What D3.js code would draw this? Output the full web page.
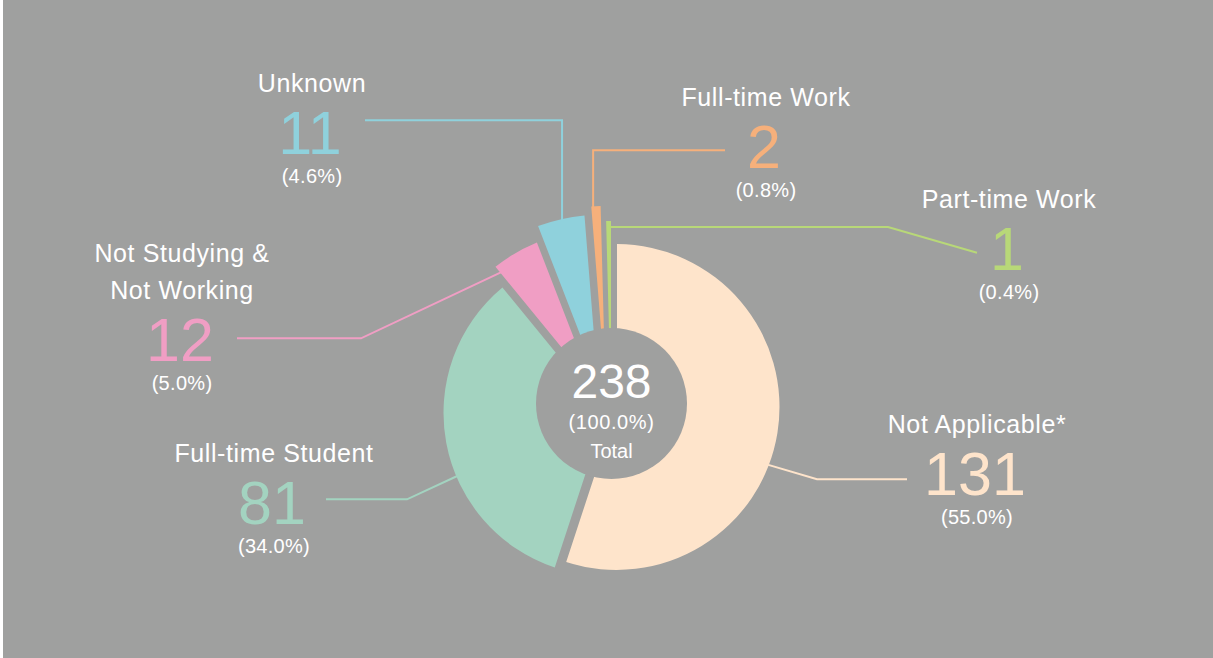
<!DOCTYPE html>
<html lang="en">
<head>
    <meta charset="UTF-8">
    <title>Donut - Status</title>
    <script src="https://d3js.org/d3.v7.min.js"></script>
    <style>
        body { margin: 0; background: #fff; }
        text { font-family: "Liberation Sans", Arial, Helvetica, sans-serif; }
    </style>
</head>
<body>
    <svg id="chart" width="1213" height="658"></svg>

    <script>
        // Data (clockwise from 12 o'clock)
        const categories = ["Not Applicable*", "Full-time Student", "Not Studying & Not Working", "Unknown", "Full-time Work", "Part-time Work"];
        const titleLines = [["Not Applicable*"], ["Full-time Student"], ["Not Studying &", "Not Working"], ["Unknown"], ["Full-time Work"], ["Part-time Work"]];
        const counts = [131, 81, 12, 11, 2, 1];
        const totalLabel = "Total";

        // Styles
        const bg = "#9fa09f";
        const colors = ["#fee4cb", "#a3d3c0", "#f09ec4", "#8fd1dc", "#f6b07b", "#b8d878"];
        const outerR = [163, 163, 174, 185, 200, 185];
        const shift = [[5, 1], [-5, 7], [-8.5, -2.5], [-9.4, -6.4], [-5, 0], [-0.5, 0]];
        const halfGap = [0.5, 1, 3.5, 3, 0.6, 0];

        // Layout
        const cx = 611.5, cy = 406;
        const holeR = 75.5, holeY = 403.5;
        const labelPos = [[977, 433], [274, 462], [182, 262], [312, 92], [766, 106], [1009, 208]];
        const leaders = [
            { f: 0.56, dr: -4, pt: [907, 479.3], elbowX: 817 },
            { f: 0.40, dr: -4, pt: [326, 499.3], elbowX: 407 },
            { f: 0.10, dr: -8, pt: [237, 338.3], elbowX: 361 },
            { f: 0.50, dr: -5, pt: [365, 120.3], elbowX: null },
            { f: 0.20, dr: -5, pt: [725, 150.3], elbowX: null },
            { f: 0.50, dr: -6, pt: [977, 252.7], elbowX: 888, fromSlice: true }
        ];

        const total = d3.sum(counts);
        const pctFmt = d3.format(".1f");

        const svg = d3.select("#chart");
        svg.append("rect").attr("x", 3).attr("y", 0).attr("width", 1210).attr("height", 658).attr("fill", bg);

        const pie = d3.pie().sort(null).value(d => d);
        const arcs = pie(counts);

        const arc = d3.arc()
            .innerRadius(50)
            .outerRadius(d => outerR[d.index])
            .padRadius(100)
            .padAngle(d => halfGap[d.index] * 2 / 100);

        function attach(d, f, dr) {
            const a = d.startAngle + f * (d.endAngle - d.startAngle);
            const r = outerR[d.index] + dr;
            return [cx + shift[d.index][0] + r * Math.sin(a), cy + shift[d.index][1] - r * Math.cos(a)];
        }

        // Leader lines (under slices)
        const line = d3.line();
        svg.append("g").selectAll("path")
            .data(arcs)
            .join("path")
            .attr("fill", "none")
            .attr("stroke", (d, i) => colors[i])
            .attr("stroke-width", 2)
            .attr("d", (d, i) => {
                const L = leaders[i];
                const p = attach(d, L.f, L.dr);
                if (L.fromSlice) return line([p, [L.elbowX, p[1]], L.pt]);
                if (L.elbowX === null) return line([L.pt, [p[0], L.pt[1]], p]);
                return line([L.pt, [L.elbowX, L.pt[1]], p]);
            });

        // Slices
        svg.append("g").selectAll("path")
            .data(arcs)
            .join("path")
            .attr("transform", (d, i) => `translate(${cx + shift[i][0]},${cy + shift[i][1]})`)
            .attr("fill", (d, i) => colors[i])
            .attr("d", arc);

        // Center hole
        svg.append("circle").attr("cx", cx).attr("cy", holeY).attr("r", holeR).attr("fill", bg);

        const center = svg.append("g").attr("fill", "#fff").attr("text-anchor", "middle");
        center.append("text").attr("x", cx).attr("y", 398).attr("font-size", 48).text(total);
        center.append("text").attr("x", cx).attr("y", 429).attr("font-size", 20)
            .attr("letter-spacing", 0.6).text(`(${pctFmt(100)}%)`);
        center.append("text").attr("x", cx).attr("y", 458).attr("font-size", 20).text(totalLabel);

        // Labels
        const labels = svg.append("g").attr("text-anchor", "middle");
        arcs.forEach((d, i) => {
            const [x, y] = labelPos[i];
            const lines = titleLines[i];
            lines.forEach((t, k) => {
                labels.append("text").attr("x", x).attr("y", y + k * 36.5)
                    .attr("font-size", 25).attr("letter-spacing", 0.6)
                    .attr("fill", "#fff").text(t);
            });
            const nb = y + (lines.length - 1) * 36.5 + 62;
            labels.append("text").attr("x", x - 2).attr("y", nb)
                .attr("font-size", 61).attr("fill", colors[i]).text(counts[i]);
            labels.append("text").attr("x", x).attr("y", nb + 29)
                .attr("font-size", 20).attr("letter-spacing", 0.3)
                .attr("fill", "#fff").text(`(${pctFmt(counts[i] / total * 100)}%)`);
        });
    </script>
</body>
</html>
